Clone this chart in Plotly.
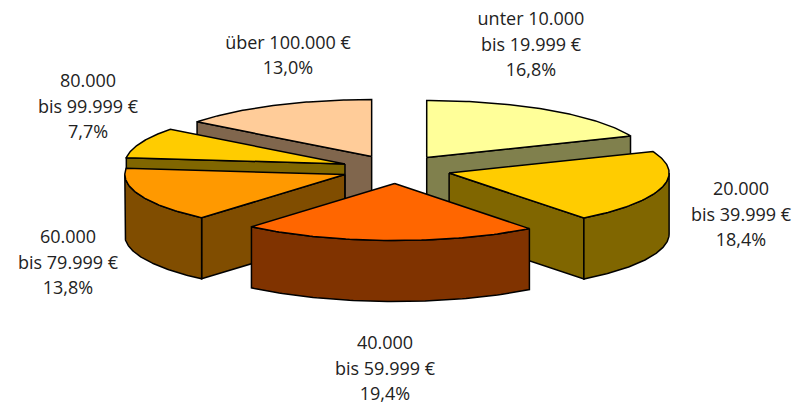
import numpy as np
import plotly.graph_objects as go

categories = ["unter 10.000|bis 19.999 €", "20.000|bis 39.999 €", "40.000|bis 59.999 €",
              "60.000|bis 79.999 €", "80.000|bis 99.999 €", "über 100.000 €"]
values = [16.8, 18.4, 19.4, 13.8, 7.7, 13.0]
value_labels = ["16,8%", "18,4%", "19,4%", "13,8%", "7,7%", "13,0%"]
top_colors = ["#FFFF99", "#FFCC00", "#FF6600", "#FF9900", "#FFCC00", "#FFCC99"]
side_colors = ["#80804D", "#806600", "#803300", "#804D00", "#806600", "#80664D"]
label_x = [531, 741, 385, 68, 88, 288]
label_y = [46, 216, 370, 264, 108, 57]
draw_order = [0, 5, 4, 1, 3, 2]

CX, CY, A, B, DEPTH, EXPLODE = 396, 169.3, 220, 57, 61, 55
LINE_GAP = 25.7
K = B / A
OUT = "#000000"

total = sum(values)
edges = np.cumsum([0] + values) / total * 2 * np.pi


def pt(theta):
    return A * np.sin(theta), -B * np.cos(theta)


fig = go.Figure()


def poly(xs, ys, color):
    fig.add_trace(go.Scatter(x=list(xs), y=list(ys), mode="lines", fill="toself", fillcolor=color,
                             line=dict(color=OUT, width=1.5), hoverinfo="skip", showlegend=False))


for i in draw_order:
    t0, t1 = edges[i], edges[i + 1]
    mid = (t0 + t1) / 2
    ax = CX + EXPLODE * np.sin(mid)
    ay = CY - EXPLODE * K * np.cos(mid)
    th = np.linspace(t0, t1, 80)
    ex, ey = pt(th)
    ex, ey = ax + ex, ay + ey
    # cut walls that face the viewer
    for t, visible in ((t0, np.sin(t0) < -1e-6), (t1, np.sin(t1) > 1e-6)):
        if visible:
            px, py = pt(t)
            poly([ax, ax + px, ax + px, ax, ax], [ay, ay + py, ay + py + DEPTH, ay + DEPTH, ay], side_colors[i])
    # outer wall (front-facing part only)
    lo, hi = max(t0, np.pi / 2), min(t1, 3 * np.pi / 2)
    if hi > lo:
        tw = np.linspace(lo, hi, 80)
        wx, wy = pt(tw)
        wx, wy = ax + wx, ay + wy
        poly(np.r_[wx, wx[::-1], wx[0]], np.r_[wy, wy[::-1] + DEPTH, wy[0]], side_colors[i])
    poly(np.r_[ax, ex, ax], np.r_[ay, ey, ay], top_colors[i])

text_x, text_y, text_s = [], [], []
for c, v, x, y in zip(categories, value_labels, label_x, label_y):
    lines = c.split("|") + [v]
    for k, s in enumerate(lines):
        text_x.append(x)
        text_y.append(y + (k - (len(lines) - 1) / 2) * LINE_GAP)
        text_s.append(s)

fig.add_trace(go.Scatter(
    x=text_x, y=text_y, mode="text", text=text_s,
    textposition="middle center",
    textfont=dict(family="Open Sans", size=18, color="#222222"),
    hoverinfo="skip", showlegend=False))

fig.update_layout(
    width=802, height=405, margin=dict(l=0, r=0, t=0, b=0),
    paper_bgcolor="white", plot_bgcolor="white",
    xaxis=dict(range=[0, 802], visible=False, fixedrange=True),
    yaxis=dict(range=[405, 0], visible=False, fixedrange=True),
)
fig.write_html("out.html", config={"displayModeBar": False},
               post_script="document.body.style.margin='0';")
